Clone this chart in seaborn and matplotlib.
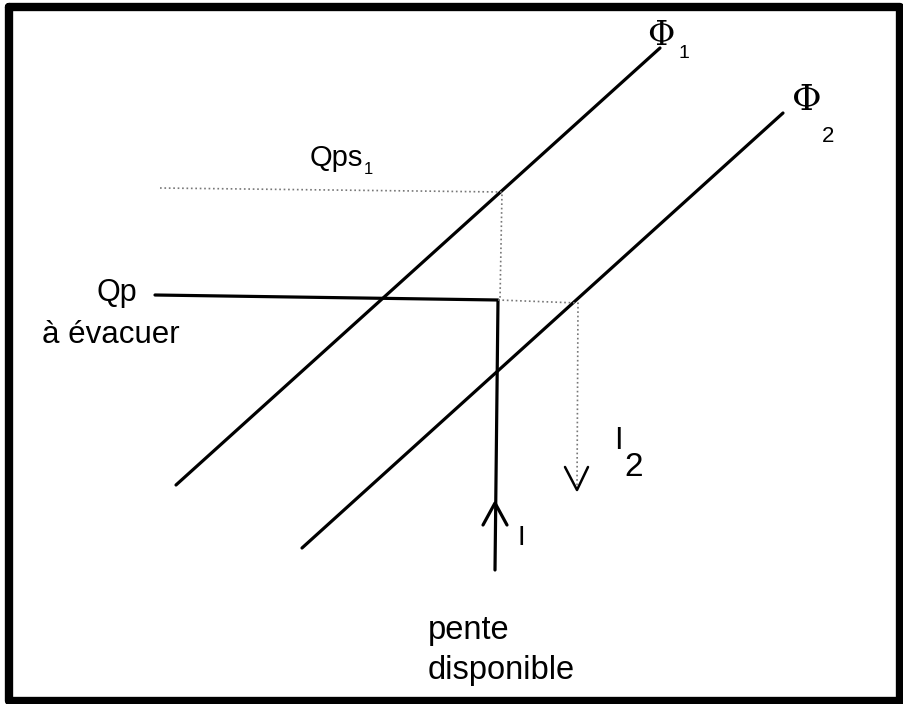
import seaborn as sns
import matplotlib.pyplot as plt
import pandas as pd

# diagram geometry, in picture pixels (x right, y down)
phi1_x = [176, 660]
phi1_y = [485, 48]
phi2_x = [302, 783]
phi2_y = [548, 113]

qp_x = [155, 498, 498, 495]
qp_y = [295, 300, 300, 570]
qps_x = [160, 502, 500]
qps_y = [188, 192, 300]
i2_x = [498, 578, 577]
i2_y = [300, 303, 490]

up_head_x = [483, 495, 507]
up_head_y = [525, 503, 525]
down_head_x = [565, 577, 588]
down_head_y = [467, 490, 467]

sns.set_theme(style="white")
fig = plt.figure(figsize=(9.04, 7.04), dpi=100)
ax = fig.add_axes([0, 0, 1, 1])

solid = dict(color="black", linewidth=2.3, sort=False, estimator=None)
dotted = dict(color="#777777", linewidth=1.2, linestyle=":", sort=False, estimator=None)

sns.lineplot(x=phi1_x, y=phi1_y, ax=ax, **solid)
sns.lineplot(x=phi2_x, y=phi2_y, ax=ax, **solid)
sns.lineplot(x=qp_x, y=qp_y, ax=ax, **solid)
sns.lineplot(x=up_head_x, y=up_head_y, ax=ax, **solid)
sns.lineplot(x=qps_x, y=qps_y, ax=ax, **dotted)
sns.lineplot(x=i2_x, y=i2_y, ax=ax, **dotted)
sns.lineplot(x=down_head_x, y=down_head_y, ax=ax, color="black", linewidth=1.8,
             sort=False, estimator=None)

# frame
sns.lineplot(x=[9, 900, 900, 9, 9], y=[7, 7, 701, 701, 7], ax=ax, color="black",
             linewidth=6, sort=False, estimator=None)

sans = "Liberation Sans"
serif = "DejaVu Serif"
ink = "black"
ax.text(661, 36, "Φ", fontsize=24, family=serif, va="center", ha="center", color=ink)
ax.text(684, 53, "1", fontsize=14, family=sans, va="center", ha="center", color=ink)
ax.text(807, 100, "Φ", fontsize=26, family=serif, va="center", ha="center", color=ink)
ax.text(828, 136, "2", fontsize=16, family=sans, va="center", ha="center", color=ink)
ax.text(310, 158, "Qps", fontsize=21, family=sans, va="center", color=ink)
ax.text(364, 170, "1", fontsize=12, family=sans, va="center", ha="left", color=ink)
ax.text(97, 293, "Qp", fontsize=22, family=sans, va="center", color=ink)
ax.text(42, 335, "à évacuer", fontsize=22.5, family=sans, va="center", color=ink)
ax.text(618, 441, "I", fontsize=22, family=sans, va="center", ha="center", color=ink)
ax.text(634, 467, "2", fontsize=24, family=sans, va="center", ha="center", color=ink)
ax.text(521, 538, "I", fontsize=20, family=sans, va="center", ha="center", color=ink)
ax.text(428, 630, "pente", fontsize=23.5, family=sans, va="center", color=ink)
ax.text(428, 670, "disponible", fontsize=23.5, family=sans, va="center", color=ink)

ax.set_xlim(0, 904)
ax.set_ylim(704, 0)
ax.axis("off")
fig.savefig("out.png", dpi=100, facecolor="white")
